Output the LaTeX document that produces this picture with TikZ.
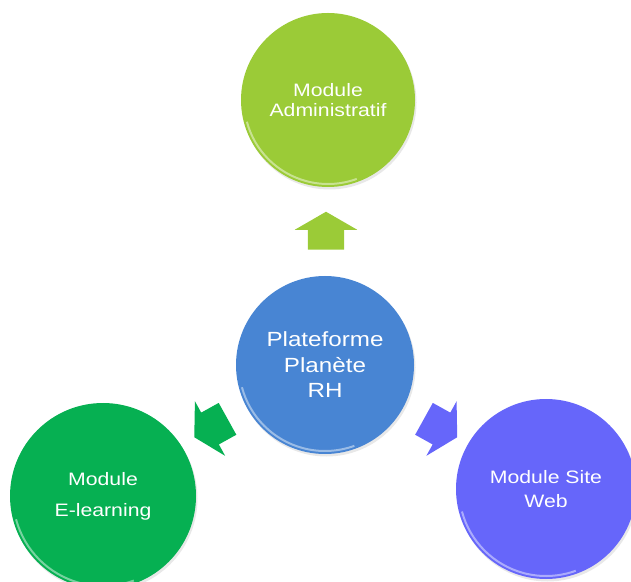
\documentclass[tikz,border=0pt]{standalone}
\usepackage{fontspec}
\setmainfont{Liberation Sans}[FakeStretch=1.18]
\usetikzlibrary{shapes.arrows,shadows}
\definecolor{admincol}{RGB}{155,203,55}
\definecolor{platcol}{RGB}{72,133,211}
\definecolor{elearncol}{RGB}{6,176,82}
\definecolor{webcol}{RGB}{102,102,250}
\tikzset{
module/.style={circle,draw=none,inner sep=0pt,text=white,align=center,
  drop shadow={opacity=0.18,shadow xshift=1.5pt,shadow yshift=-2.5pt}},
bigarrow/.style={single arrow,draw=none,inner xsep=0pt,inner ysep=18pt,minimum height=38pt,
  minimum width=0pt,single arrow head extend=13pt,single arrow tip angle=120},
rim/.style={white,opacity=.45,line width=2}
}

\begin{document}
\begin{tikzpicture}[x=1pt,y=1pt]
\useasboundingbox (0,0) rectangle (631,581);
%modules
\node[module,fill=admincol,minimum size=174pt,font=\fontsize{18}{20.5}\selectfont] (admin) at (328,481) {Module\\Administratif};
\node[module,fill=platcol,minimum size=178pt,font=\fontsize{20.5}{25.5}\selectfont] (plat) at (325,216) {Plateforme\\Planète\\RH};
\node[module,fill=elearncol,minimum size=186pt,font=\fontsize{18}{31}\selectfont] (elearn) at (103,85) {Module\\E-learning};
\node[module,fill=webcol,minimum size=180pt,font=\fontsize{18}{24}\selectfont] (web) at (546,92) {Module Site\\Web};
%arrows
\node[bigarrow,fill=admincol,rotate=90] (toadmin) at (326,345) {};
\node[bigarrow,fill=elearncol,rotate=209] (toelearn) at (215.5,155.5) {};
\node[bigarrow,fill=webcol,rotate=-29] (toweb) at (436,155.5) {};
%rims
\draw[rim] ([shift={(195:84)}]admin.center) arc[start angle=195,end angle=290,radius=84];
\draw[rim] ([shift={(195:86)}]plat.center) arc[start angle=195,end angle=290,radius=86];
\draw[rim] ([shift={(195:90)}]elearn.center) arc[start angle=195,end angle=290,radius=90];
\draw[rim] ([shift={(195:87)}]web.center) arc[start angle=195,end angle=290,radius=87];
\end{tikzpicture}
\end{document}
